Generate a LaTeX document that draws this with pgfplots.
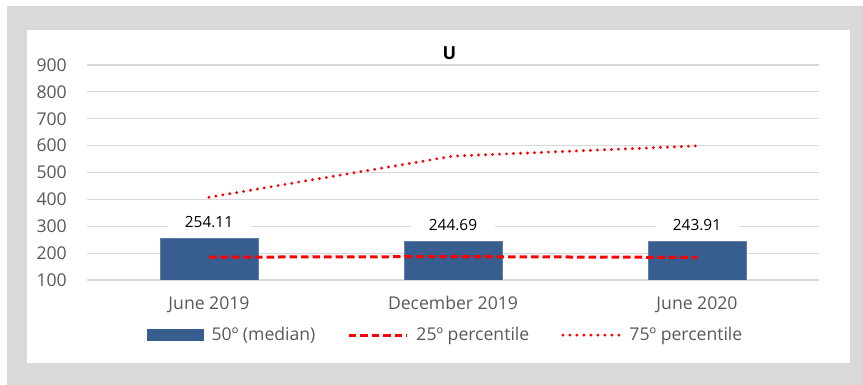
\documentclass[border=0pt]{standalone}
\usepackage{fontspec}
\setmainfont{Open Sans}
\usepackage{pgfplots}
\pgfplotsset{compat=1.18}

\definecolor{frame}{RGB}{217,217,217}
\definecolor{barblue}{RGB}{55,94,142}
\definecolor{gridgray}{RGB}{217,217,217}
\definecolor{labelgray}{RGB}{89,89,89}

% Quartiles of U per survey wave
\pgfplotstableread{
x  med     pTwentyFive  pSeventyFive
0  254.11  185          408
1  244.69  187          561
2  243.91  184          599
}\udata

\begin{document}
\begin{tikzpicture}[x=1pt,y=1pt]
  % page frame: 863 x 385, grey border round a white panel
  \useasboundingbox (0,0) rectangle (863,385);
  \fill[white] (0,0) rectangle (863,385);
  \fill[frame] (7,0) rectangle (863,379);
  \fill[white] (27,22) rectangle (850,355);

  \node[font=\fontsize{18}{20}\selectfont\bfseries, text=black] at (449.5,331.5) {U};

  \begin{axis}[
    at={(87pt,105pt)}, anchor=south west,
    scale only axis, width=732pt, height=215pt,
    xmin=-0.5, xmax=2.5, ymin=100, ymax=900,
    ytick={100,200,...,900},
    xtick={0,1,2},
    xticklabels={June 2019, December 2019, June 2020},
    axis line style={draw=none},
    major tick length=0pt,
    ymajorgrids, major grid style={gridgray, line width=1.2pt},
    /pgf/number format/assume math mode=true,
    ticklabel style={font=\fontsize{17.6}{20}\selectfont, text=labelgray},
    yticklabel style={anchor=east, inner sep=0pt, xshift=-20pt},
    xticklabel style={anchor=base, inner sep=0pt, yshift=-30pt},
    legend style={
      at={(0.49,-0.256)}, anchor=center, draw=none, fill=none,
      legend columns=3,
      font=\fontsize{17.6}{20}\selectfont, text=labelgray,
      /tikz/every even column/.append style={column sep=30pt},
      inner sep=0pt,
    },
    legend cell align=left,
  ]
    \addplot[ybar, bar width=98pt, fill=barblue, draw=barblue!80!white, line width=0.6pt,
      nodes near coords,
      nodes near coords style={
        /pgf/number format/fixed,
        /pgf/number format/fixed zerofill,
        /pgf/number format/precision=2,
        anchor=center, yshift=16.5pt, fill=white,
        inner xsep=18pt, inner ysep=4pt, text=black,
        font=\fontsize{15.4}{17}\selectfont},
      legend image code/.code={\fill[barblue] (0pt,-5.5pt) rectangle (56pt,5.5pt);
        \path (62pt,0pt);},
    ] table[x=x, y=med] {\udata};
    \addlegendentry{50º (median)}

    \addplot[red, line width=3pt, dash pattern=on 7.5pt off 4pt, no markers,
      legend image code/.code={\draw[red, line width=3pt, dash pattern=on 7.5pt off 4pt] (0pt,0pt) -- (58pt,0pt);
        \path (64pt,0pt);},
    ] table[x=x, y=pTwentyFive] {\udata};
    \addlegendentry{25º percentile}

    \addplot[red, line width=3.2pt, line cap=round, dash pattern=on 0pt off 7pt, no markers,
      legend image code/.code={\draw[red, line width=3.2pt, line cap=round, dash pattern=on 0pt off 7pt] (1pt,0pt) -- (58pt,0pt);
        \path (64pt,0pt);},
    ] table[x=x, y=pSeventyFive] {\udata};
    \addlegendentry{75º percentile}
  \end{axis}
\end{tikzpicture}
\end{document}
